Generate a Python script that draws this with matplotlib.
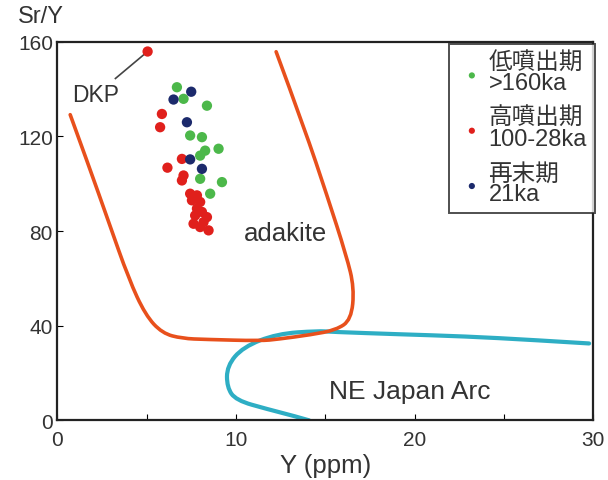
import numpy as np
import matplotlib
matplotlib.use("Agg")
import matplotlib.pyplot as plt
from matplotlib.path import Path
from matplotlib.patches import PathPatch

plt.rcParams['font.family'] = ['Liberation Sans', 'Noto Sans CJK JP', 'DejaVu Sans']

# data: Y (ppm), Sr/Y
green_y = [6.70, 7.07, 8.38, 7.44, 8.10, 8.28, 9.03, 8.00, 8.00, 9.22, 8.56]
green_sr = [140.8, 135.9, 133.0, 120.4, 119.7, 114.0, 114.8, 111.9, 102.1, 100.7, 95.8]

blue_y = [6.51, 7.50, 7.26, 7.44, 8.10]
blue_sr = [135.6, 138.9, 126.0, 110.3, 106.3]

red_y = [5.06, 5.86, 5.76, 6.98, 6.17, 7.07, 6.98, 7.44, 7.82, 7.54, 8.00,
         7.82, 8.10, 7.72, 8.38, 7.63, 8.19, 8.47, 8.00]
red_sr = [155.9, 129.5, 123.9, 110.5, 106.8, 103.5, 101.4, 95.8, 95.1, 93.0, 92.3,
          89.5, 88.1, 86.6, 85.9, 83.1, 83.8, 80.3, 81.7]

# field boundaries (control points, smoothed by quadratic bezier)
adakite_y = [0.73, 1.76, 2.88, 4.01, 4.94, 5.88, 7.00, 8.31, 11.40,
             12.34, 14.21, 15.60, 16.45, 16.62, 16.18, 15.10, 13.84, 12.25]
adakite_sr = [129.2, 107.8, 83.9, 59.7, 44.5, 36.8, 34.6, 34.2, 33.6,
              34.3, 36.2, 38.2, 42.5, 56.0, 69.6, 95.0, 123.3, 155.8]

arc_y = [29.76, 26.57, 22.83, 19.08, 15.34, 14.60, 12.30, 10.40, 9.50,
         9.50, 10.00, 11.78, 13.28, 14.10]
arc_sr = [32.5, 34.0, 35.5, 36.4, 37.4, 37.8, 36.6, 31.0, 23.0,
          14.0, 8.5, 4.7, 1.8, 0.0]

dkp_label = (2.13, 137.6)
dkp_line_end = (3.26, 144.5)

legend_labels = ['低噴出期\n>160ka', '高噴出期\n100-28ka', '再末期\n21ka']

txt = '#333333'


def smooth_path(xs, ys):
    pts = list(zip(xs, ys))
    verts = [pts[0]]
    codes = [Path.MOVETO]
    for i in range(1, len(pts) - 1):
        mid = ((pts[i][0] + pts[i + 1][0]) / 2, (pts[i][1] + pts[i + 1][1]) / 2)
        if i == len(pts) - 2:
            mid = pts[-1]
        verts += [pts[i], mid]
        codes += [Path.CURVE3, Path.CURVE3]
    return Path(verts, codes)


fig = plt.figure(figsize=(6.08, 4.81), dpi=100)
ax = fig.add_axes([0.094, 0.124, 0.882, 0.787])

ax.add_patch(PathPatch(smooth_path(adakite_y, adakite_sr), fill=False,
                       edgecolor='#e8501c', lw=2.6, capstyle='round', zorder=2))
ax.add_patch(PathPatch(smooth_path(arc_y, arc_sr), fill=False,
                       edgecolor='#2eaec4', lw=3.0, capstyle='round', zorder=1))

g = ax.scatter(green_y, green_sr, s=55, color='#4cb84a', edgecolors='none', zorder=3)
r = ax.scatter(red_y, red_sr, s=55, color='#e0201c', edgecolors='none', zorder=4)
b = ax.scatter(blue_y, blue_sr, s=55, color='#1c2a6c', edgecolors='none', zorder=5)

ax.plot([dkp_line_end[0], red_y[0]], [dkp_line_end[1], red_sr[0]], color='#444444', lw=1.2, zorder=3)
ax.text(dkp_label[0], dkp_label[1], 'DKP', fontsize=16.5, color=txt, ha='center', va='center')
ax.text(12.75, 79, 'adakite', fontsize=18.5, color=txt, ha='center', va='center')
ax.text(19.7, 12.3, 'NE Japan Arc', fontsize=19, color=txt, ha='center', va='center')

ax.set_xlim(0, 30)
ax.set_ylim(0, 160)
ax.set_xticks([0, 10, 20, 30])
ax.set_xticks([5, 15, 25], minor=True)
ax.set_yticks([0, 40, 80, 120, 160])
ax.tick_params(axis='both', which='both', direction='in', length=4, width=0.8,
               labelsize=15, labelcolor=txt, pad=7)
ax.tick_params(axis='y', pad=3)
for sp in ax.spines.values():
    sp.set_linewidth(1.6)
    sp.set_color('#222222')

ax.set_xlabel('Y (ppm)', fontsize=18.5, color=txt, labelpad=3)
fig.text(0.03, 0.965, 'Sr/Y', fontsize=17, color=txt, ha='left', va='center')

leg = ax.legend([g, r, b], legend_labels, loc='upper right', bbox_to_anchor=(1.003, 0.995),
                fontsize=17, markerscale=0.6, frameon=True, fancybox=False,
                edgecolor='#222222', labelspacing=0.55, handletextpad=0.1,
                borderpad=0.35, handlelength=1.2, borderaxespad=0)
leg.get_frame().set_linewidth(1.4)
for t in leg.get_texts():
    t.set_color(txt)
    t.set_linespacing(0.9)

fig.savefig('out.png', dpi=100)
